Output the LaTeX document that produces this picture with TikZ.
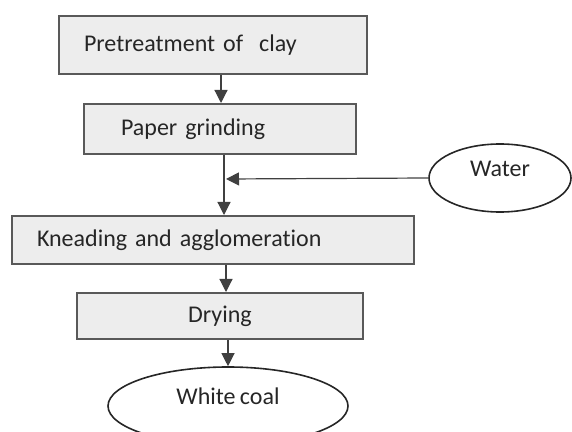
\documentclass[tikz,border=0pt]{standalone}
\usepackage{fontspec}
\setmainfont{Carlito}[Ligatures=NoCommon,WordSpace=0.8]
\usetikzlibrary{arrows.meta,shapes.geometric}
\begin{document}
\begin{tikzpicture}[x=0.5pt,y=-0.5pt,
    stagebox/.style={draw=black!65,line width=1pt,fill=black!7,anchor=north west,inner ysep=0pt,align=left,text=black!85,font=\fontsize{12}{14}\selectfont},
    endnode/.style={ellipse,draw=black!85,line width=0.8pt,inner sep=0pt,text=black!85,font=\fontsize{12}{14}\selectfont,text height=8pt},
    flow/.style={black!75,line width=0.6pt,-{Triangle[length=6.5pt,width=6.5pt]}}]
    \useasboundingbox (0,0) rectangle (572,432);
    \clip (0,0) rectangle (572,432);
    \node[stagebox,minimum height=29pt,inner xsep=12.5pt,text width=129pt] (pretreat) at (58,15) {Pretreatment of\ \ clay};
    \node[stagebox,minimum height=25pt,inner xsep=18.5pt,text width=99pt] (grind) at (83,103) {Paper grinding};
    \node[stagebox,minimum height=24pt,inner xsep=12.5pt,text width=176pt] (knead) at (11,215) {Kneading and agglomeration};
    \node[stagebox,minimum height=23pt,inner xsep=0pt,text width=143pt,align=center] (dry) at (76,292) {Drying};
    \node[endnode,minimum width=71pt,minimum height=34pt,text depth=9pt] (water) at (500,178) {Water};
    \node[endnode,minimum width=120pt,minimum height=39pt,text depth=10pt] (coal) at (228,406) {White coal};
    \coordinate (axisA) at (221,0);
    \coordinate (axisB) at (224,0);
    \coordinate (axisC) at (226,0);
    \coordinate (feed) at (226,179);
    \draw[flow] (pretreat.south -| axisA) -- (grind.north -| axisA);
    \draw[flow] (grind.south -| axisB) -- (knead.north -| axisB);
    \draw[flow] (water.west) -- (feed);
    \draw[flow] (knead.south -| axisC) -- (dry.north -| axisC);
    \draw[flow] (dry.south -| coal.north) -- (coal.north);
\end{tikzpicture}
\end{document}
